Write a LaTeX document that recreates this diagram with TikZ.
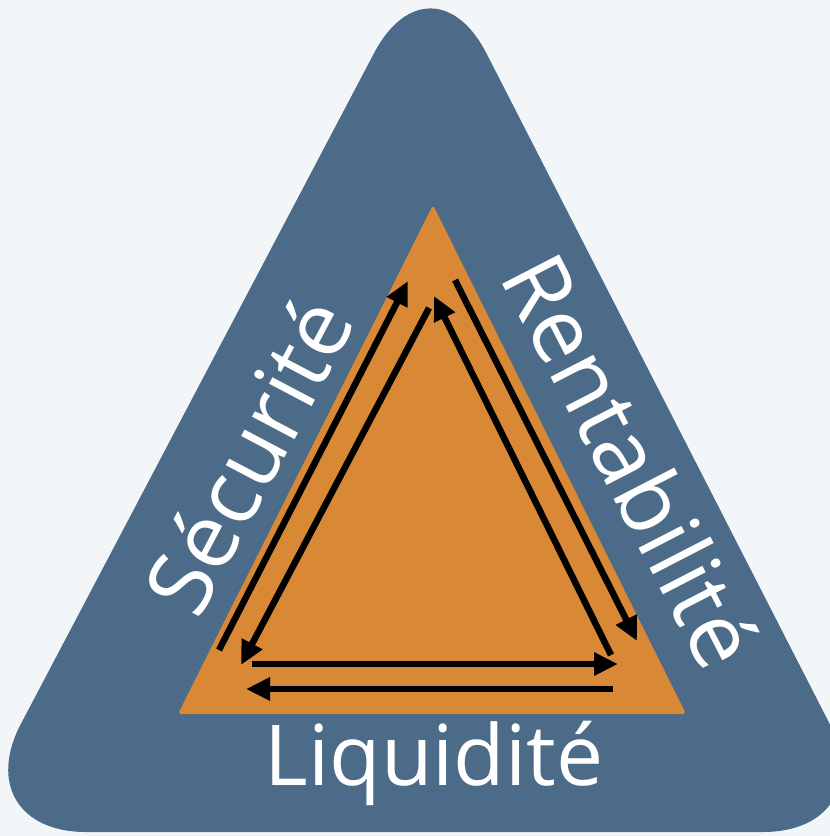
\documentclass[tikz,border=0pt]{standalone}
\usepackage{fontspec}
\setmainfont{Open Sans}
\usetikzlibrary{arrows.meta}
\definecolor{bgc}{HTML}{F3F6F9}
\definecolor{bluec}{HTML}{4B6B88}
\definecolor{orangec}{HTML}{D98836}
\tikzset{
  flow/.style={line width=6.5pt, black, -{Triangle[length=24pt,width=22pt]}},
  lbl/.style={text=white, inner sep=0pt, font=\fontsize{90}{100}\selectfont}
}
\begin{document}
\begin{tikzpicture}[x=1pt,y=-1pt]
\useasboundingbox (0,0) rectangle (830,836);
\clip (0,0) rectangle (830,836);
\fill[bgc] (0,0) rectangle (830,836);
% outer triangle
\fill[bluec, rounded corners=122pt] (431,-55) -- (885,832) -- (-36,832) -- cycle;
% inner triangle
\fill[orangec, rounded corners=3pt] (433,205) -- (686,714) -- (178,714) -- cycle;
% coordinates
\coordinate (L1a) at (219,650);
\coordinate (L1b) at (408,281);
\coordinate (R1a) at (455,280);
\coordinate (R1b) at (637,641);
\coordinate (B1a) at (613,689);
\coordinate (B1b) at (246,689);
\coordinate (T) at (434,296);
\coordinate (BL) at (241,665);
\coordinate (BR) at (618,664);
\coordinate (Ts) at (429,308);
\coordinate (BLs) at (252,664);
\coordinate (BRs) at (611,655);
% arrows
\draw[flow] (L1a) -- (L1b);
\draw[flow] (R1a) -- (R1b);
\draw[flow] (B1a) -- (B1b);
\draw[flow] (Ts) -- (BL);
\draw[flow] (BLs) -- (BR);
\draw[flow] (BRs) -- (T);
% labels
\node[lbl, rotate=62.2] (sec) at (248,455) {Sécurité};
\node[lbl, rotate=-62.7] (ren) at (632,460) {Rentabilité};
\node[lbl, anchor=base, font=\fontsize{84}{96}\selectfont] (liq) at (434,785) {Liquidité};
\end{tikzpicture}
\end{document}
